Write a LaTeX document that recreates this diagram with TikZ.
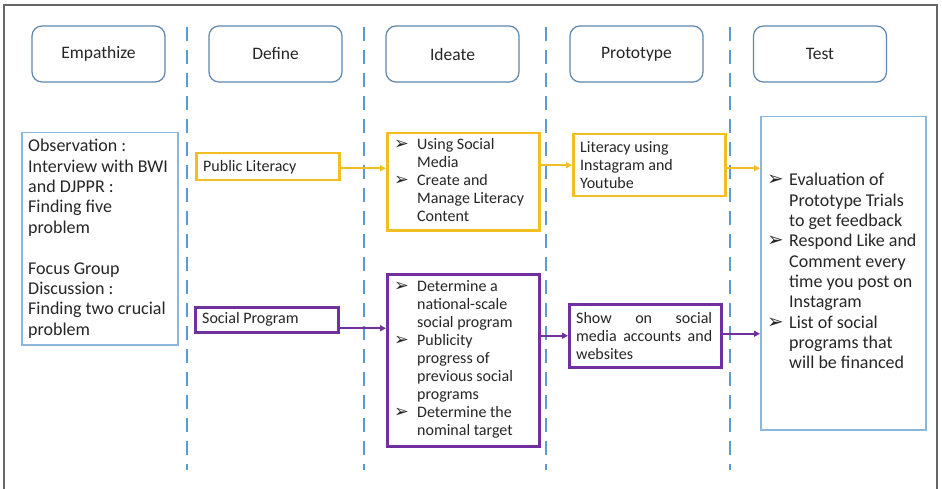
\documentclass[tikz,border=0pt]{standalone}
\usepackage{fontspec}
\usepackage{graphicx}
\setmainfont{Carlito}
\newfontfamily\dejavu{DejaVu Sans}
\usetikzlibrary{arrows.meta,calc}
\definecolor{ylw}{HTML}{F2BE22}
\definecolor{prp}{HTML}{7030A0}
\definecolor{lblue}{HTML}{8DB6DB}
\definecolor{hdr}{HTML}{5F87AE}
\definecolor{dsh}{HTML}{5B9BD5}
\definecolor{frm}{HTML}{666666}
\definecolor{ink}{HTML}{262626}
\newcommand\arw{\scalebox{1.1}{\dejavu ➢}}
\tikzset{
  hdrbox/.style={draw=hdr, line width=1.2pt, rounded corners=10pt, minimum width=133pt, minimum height=56pt, inner sep=0pt, text=ink, font=\fontsize{17.5}{20}\selectfont},
  boxbase/.style={inner sep=0pt, anchor=north west},
  ybox/.style={boxbase, draw=ylw, line width=2.5pt},
  pbox/.style={boxbase, draw=prp, line width=2.5pt},
  lbox/.style={boxbase, draw=lblue, line width=1.5pt},
  txt/.style={anchor=west, inner sep=0pt, align=left, text=ink},
  sepline/.style={dsh, line width=2.5pt, dash pattern=on 14pt off 9pt},
  yarr/.style={ylw, line width=2pt, -{Triangle[length=6pt,width=6pt]}},
  parr/.style={prp, line width=2pt, -{Triangle[length=6pt,width=6pt]}},
}
\begin{document}
\begin{tikzpicture}[x=1pt,y=-1pt]
\useasboundingbox (0,0) rectangle (942,489);
\fill[white] (0,0) rectangle (942,489);
% frame
\draw[frm, line width=2pt] (4,489) -- (4,5) -- (937,5) -- (937,489);
% separators
\foreach \xx in {187,364,546,730} \draw[sepline] (\xx,27) -- (\xx,470);
% headers
\node[hdrbox] (hemp) at (98.5,54) {Empathize};
\node[hdrbox] (hdef) at (275.5,54) {Define};
\node[hdrbox] (hide) at (452.5,54) {Ideate};
\node[hdrbox] (hpro) at (636.5,54) {Prototype};
\node[hdrbox] (htst) at (820,54) {Test};
% empathize box
\node[lbox, minimum width=156pt, minimum height=212pt] (obs) at (21,132) {};
\node[txt, font=\fontsize{18}{20.4}\selectfont] (obst) at ([xshift=7pt]obs.west)
  {Observation :\\Interview with BWI\\and DJPPR :\\Finding five\\problem\\[20.4pt]Focus Group\\Discussion :\\Finding two crucial\\problem};
% define boxes
\node[ybox, minimum width=143pt, minimum height=27pt] (pl) at (195,152) {};
\node[txt, font=\fontsize{16}{18}\selectfont] (plt) at ([xshift=8pt]pl.west) {Public Literacy};
\node[pbox, minimum width=143pt, minimum height=25pt] (sp) at (194,306) {};
\node[txt, font=\fontsize{16}{18}\selectfont] (spt) at ([xshift=8pt]sp.west) {Social Program};
% ideate boxes
\node[ybox, minimum width=152pt, minimum height=97pt] (iy) at (386,132) {};
\node[txt, font=\fontsize{16}{18}\selectfont] (iyt) at ([xshift=8pt]iy.west)
  {\begin{tabular}{@{}p{23pt}@{}l@{}}\arw & Using Social\\ & Media\\ \arw & Create and\\ & Manage Literacy\\ & Content\end{tabular}};
\node[pbox, minimum width=152pt, minimum height=172pt] (ip) at (386,273) {};
\node[txt, font=\fontsize{16}{18}\selectfont] (ipt) at ([xshift=8pt]ip.west)
  {\begin{tabular}{@{}p{23pt}@{}l@{}}\arw & Determine a\\ & national-scale\\ & social program\\ \arw & Publicity\\ & progress of\\ & previous social\\ & programs\\ \arw & Determine the\\ & nominal target\end{tabular}};
% prototype boxes
\node[ybox, minimum width=152pt, minimum height=62pt] (py) at (572,133) {};
\node[txt, font=\fontsize{16}{18}\selectfont] (pyt) at ([xshift=8pt]py.west)
  {Literacy using\\Instagram and\\Youtube};
\node[pbox, minimum width=152pt, minimum height=63pt] (pp) at (568,303) {};
\node[txt, font=\fontsize{16}{18}\selectfont] (ppt) at ([xshift=8pt]pp.west)
  {\makebox[136pt][s]{Show on social}\\\makebox[136pt][s]{media accounts and}\\websites};
% test box
\node[lbox, minimum width=165pt, minimum height=313pt] (tst) at (760,116) {};
\node[txt, font=\fontsize{18}{20.3}\selectfont] (tstt) at ([xshift=7pt]tst.west)
  {\begin{tabular}{@{}p{22pt}@{}l@{}}\arw & Evaluation of\\ & Prototype Trials\\ & to get feedback\\ \arw & Respond Like and\\ & Comment every\\ & time you post on\\ & Instagram\\ \arw & List of social\\ & programs that\\ & will be financed\end{tabular}};
% connectors
\draw[yarr] ([yshift=-1.5pt]pl.east) -- ([yshift=-1.5pt]pl.east -| iy.west);
\draw[yarr] (py.west -| iy.east) -- (py.west);
\draw[yarr] ([yshift=-3pt]py.east) -- ([yshift=-3pt]py.east -| tst.west);
\draw[parr] ([yshift=-8.5pt]sp.east) -- ([yshift=-8.5pt]sp.east -| ip.west);
\draw[parr] (pp.west -| ip.east) -- (pp.west);
\draw[parr] ([yshift=2pt]pp.east) -- ([yshift=2pt]pp.east -| tst.west);
\end{tikzpicture}
\end{document}
